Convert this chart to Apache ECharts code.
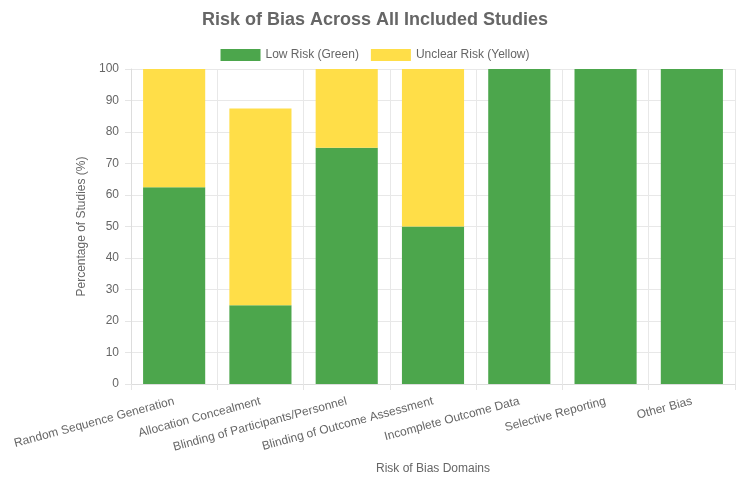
<!DOCTYPE html>
<html>
<head>
<meta charset="utf-8">
<script src="https://cdn.jsdelivr.net/npm/echarts@6/dist/echarts.min.js"></script>
<style>
html, body { margin: 0; padding: 0; background: #fff; }
#chart { width: 750px; height: 496px; }
</style>
</head>
<body>
<div id="chart"></div>
<script>
var domains = ['Random Sequence Generation', 'Allocation Concealment', 'Blinding of Participants/Personnel',
	'Blinding of Outcome Assessment', 'Incomplete Outcome Data', 'Selective Reporting', 'Other Bias'];
var lowRisk = [62.5, 25, 75, 50, 100, 100, 100];
var unclearRisk = [37.5, 62.5, 25, 50, 0, 0, 0];
var yTicks = [0, 10, 20, 30, 40, 50, 60, 70, 80, 90, 100];

var font = 'Liberation Sans, Arial, sans-serif';
var chart = echarts.init(document.getElementById('chart'));
chart.setOption({
	textStyle: { fontFamily: font },
	title: {
		text: 'Risk of Bias Across All Included Studies',
		left: 'center',
		top: 6,
		textStyle: { fontSize: 18, fontWeight: 'bold', color: '#666', fontFamily: font }
	},
	legend: {
		top: 44,
		left: 'center',
		itemWidth: 40,
		itemHeight: 12,
		itemGap: 12,
		icon: 'rect',
		textStyle: { fontSize: 12, color: '#666' },
		data: ['Low Risk (Green)', 'Unclear Risk (Yellow)']
	},
	grid: { left: 131, right: 15, top: 69, bottom: 112 },
	xAxis: {
		type: 'category',
		data: domains,
		name: 'Risk of Bias Domains',
		nameLocation: 'middle',
		nameGap: 79,
		nameTextStyle: { fontSize: 12, color: '#666' },
		axisLine: { lineStyle: { color: '#ddd' } },
		axisTick: { show: true, length: 6, lineStyle: { color: '#e5e5e5' } },
		axisLabel: { rotate: 15, fontSize: 12, color: '#666', margin: 17, interval: 0 },
		splitLine: { show: true, lineStyle: { color: '#e8e8e8' } }
	},
	yAxis: {
		type: 'value',
		min: yTicks[0],
		max: yTicks[yTicks.length - 1],
		interval: 10,
		name: 'Percentage of Studies (%)',
		nameLocation: 'middle',
		nameGap: 40,
		nameTextStyle: { fontSize: 12, color: '#666' },
		axisLine: { show: true, lineStyle: { color: '#ddd' } },
		axisTick: { show: true, length: 6, lineStyle: { color: '#e5e5e5' } },
		axisLabel: { fontSize: 12, color: '#666', margin: 12 },
		splitLine: { lineStyle: { color: '#e8e8e8' } }
	},
	series: [{
		name: 'Low Risk (Green)',
		type: 'bar',
		stack: 'risk',
		barCategoryGap: '28%',
		data: lowRisk,
		itemStyle: { color: '#4CA64C' }
	}, {
		name: 'Unclear Risk (Yellow)',
		type: 'bar',
		stack: 'risk',
		data: unclearRisk,
		itemStyle: { color: '#FFDE48' }
	}]
});
</script>
</body>
</html>
